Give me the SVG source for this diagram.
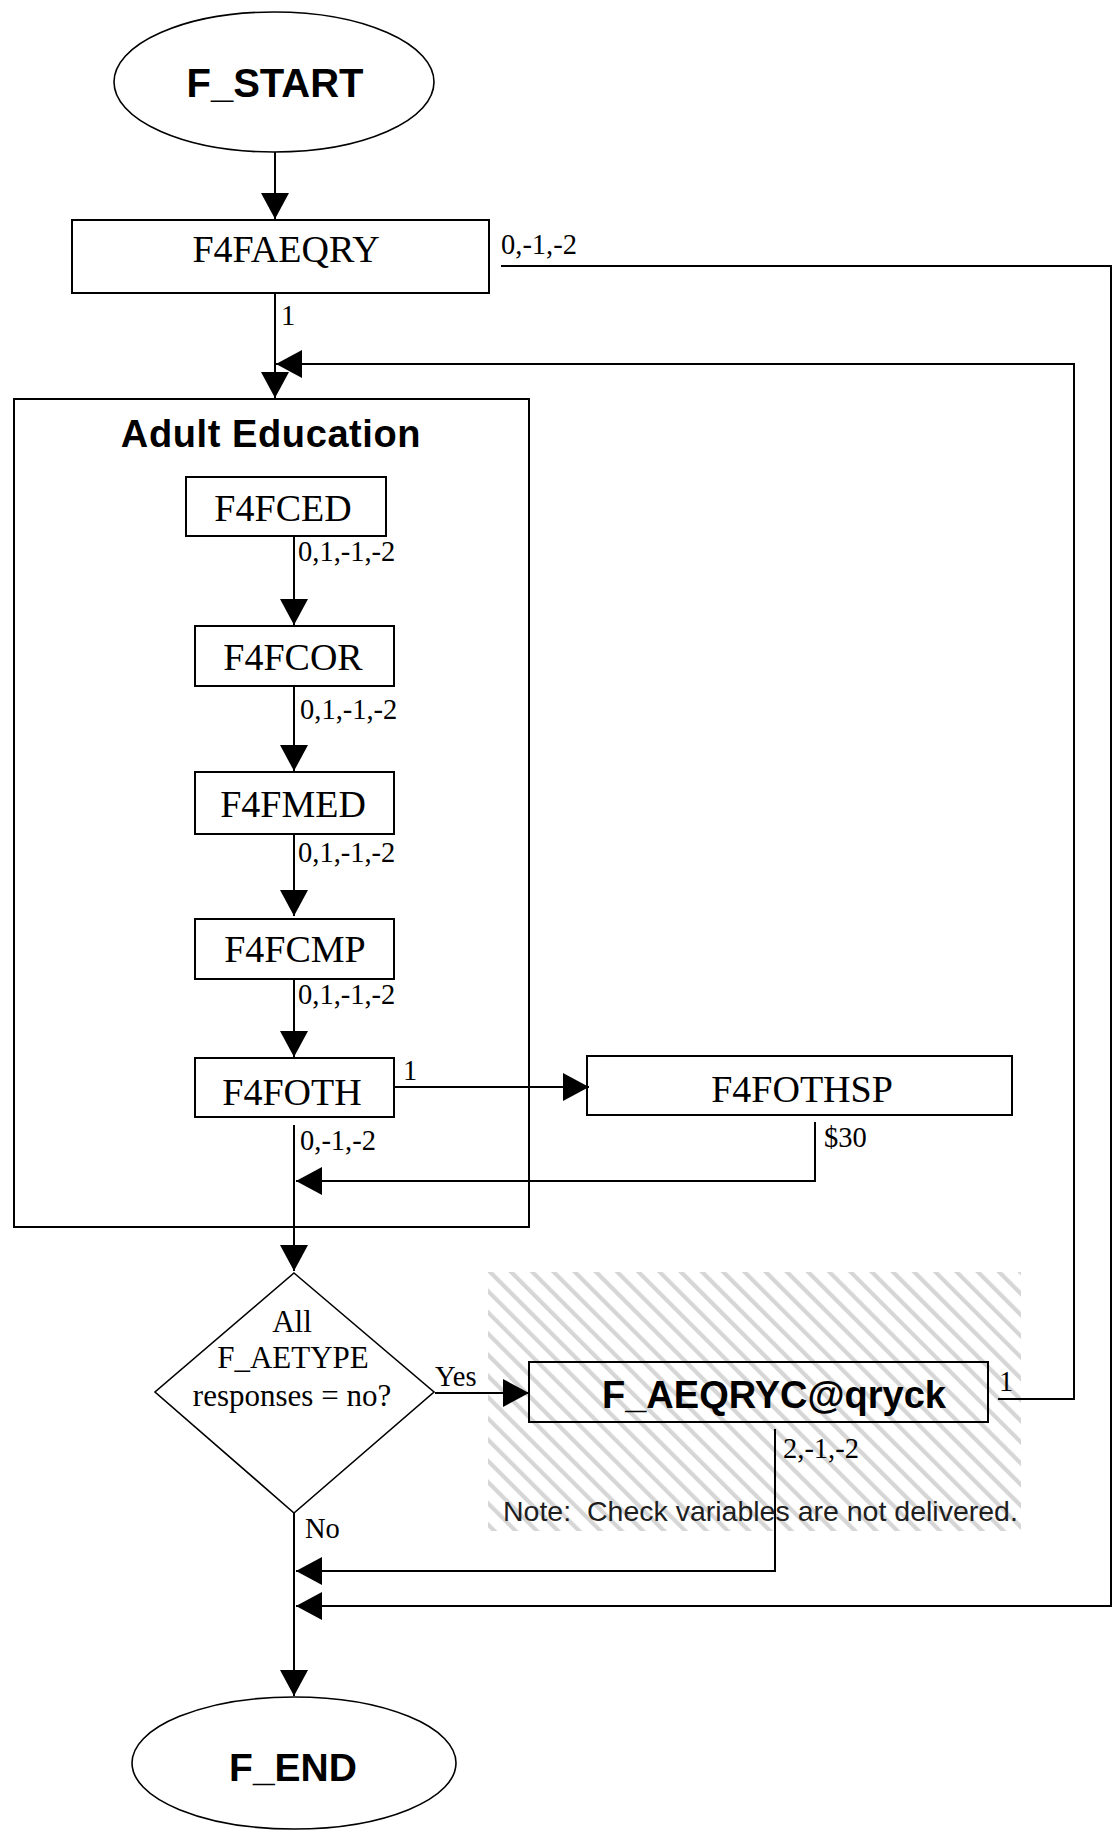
<svg xmlns="http://www.w3.org/2000/svg" width="1117" height="1832" viewBox="0 0 1117 1832">
<style>
.bg{fill:#ffffff}
.box{fill:none;stroke:#000;stroke-width:2}
.term{fill:#fff;stroke:#000;stroke-width:1.6}
.dia{fill:none;stroke:#000;stroke-width:1.6}
.ser{font-family:"Liberation Serif","Times New Roman",serif;fill:#000}
.node{font-size:38px;text-anchor:middle}
.lbl{font-size:28.5px}
.dtx{font-size:31px;text-anchor:middle}
.bold{font-family:"Liberation Sans",Arial,sans-serif;font-weight:bold;text-anchor:middle;fill:#000}
.note{font-family:"Liberation Sans",Arial,sans-serif;font-size:28.5px;fill:#1e1e1e;white-space:pre}
.con{fill:none;stroke:#000;stroke-width:2}
</style>
<defs>
<marker id="arr" viewBox="0 0 26 28" refX="26" refY="14" markerWidth="26" markerHeight="28" markerUnits="userSpaceOnUse" orient="auto">
<path d="M0,0 L26,14 L0,28 Z" fill="#000"/>
</marker>
<pattern id="hatch" width="15" height="15" patternUnits="userSpaceOnUse" patternTransform="rotate(-45)">
<rect x="0" y="0" width="4.2" height="15" fill="#d6d6d6"/>
</pattern>
</defs>
<rect class="bg" x="0" y="0" width="1117" height="1832"/>
<g id="note-area">
<rect x="488" y="1272" width="533" height="259" fill="url(#hatch)"/>
<text class="note" x="503" y="1521">Note:  Check variables are not delivered.</text>
</g>
<g id="container-adult-education">
<rect class="box" x="14" y="399" width="515" height="828"/>
<text class="bold" x="271" y="447" font-size="38" letter-spacing="0.6">Adult Education</text>
</g>
<g id="connectors">
<path class="con" d="M275,152 V219" marker-end="url(#arr)"/>
<path class="con" d="M275,293 V398" marker-end="url(#arr)"/>
<path class="con" d="M998,1399 H1074 V364 H276" marker-end="url(#arr)"/>
<path class="con" d="M501,266 H1111 V1606 H296" marker-end="url(#arr)"/>
<path class="con" d="M294,536 V625" marker-end="url(#arr)"/>
<path class="con" d="M294,686 V771" marker-end="url(#arr)"/>
<path class="con" d="M294,834 V916" marker-end="url(#arr)"/>
<path class="con" d="M294,979 V1057" marker-end="url(#arr)"/>
<path class="con" d="M394,1087 H589" marker-end="url(#arr)"/>
<path class="con" d="M815,1122 V1181 H296" marker-end="url(#arr)"/>
<path class="con" d="M294,1125 V1271" marker-end="url(#arr)"/>
<path class="con" d="M435,1393 H529" marker-end="url(#arr)"/>
<path class="con" d="M775,1429 V1571 H296" marker-end="url(#arr)"/>
<path class="con" d="M294,1513 V1696" marker-end="url(#arr)"/>
<g class="ser lbl">
<text x="501" y="254">0,-1,-2</text>
<text x="281" y="325">1</text>
<text x="298" y="561">0,1,-1,-2</text>
<text x="300" y="719">0,1,-1,-2</text>
<text x="298" y="862">0,1,-1,-2</text>
<text x="298" y="1004">0,1,-1,-2</text>
<text x="403" y="1080">1</text>
<text x="824" y="1147">$30</text>
<text x="300" y="1150">0,-1,-2</text>
<text x="435" y="1386">Yes</text>
<text x="999" y="1391">1</text>
<text x="783" y="1458">2,-1,-2</text>
<text x="305" y="1538">No</text>
</g>
</g>
<g id="F_START">
<ellipse class="term" cx="274" cy="82" rx="160" ry="70"/>
<text class="bold" x="275" y="97" font-size="40">F_START</text>
</g>
<g id="F4FAEQRY">
<rect class="box" x="72" y="220" width="417" height="73"/>
<text class="ser node" x="286" y="262">F4FAEQRY</text>
</g>
<g id="F4FCED">
<rect class="box" x="186" y="477" width="200" height="59"/>
<text class="ser node" x="283" y="521">F4FCED</text>
</g>
<g id="F4FCOR">
<rect class="box" x="195" y="626" width="199" height="60"/>
<text class="ser node" x="293" y="670">F4FCOR</text>
</g>
<g id="F4FMED">
<rect class="box" x="195" y="772" width="199" height="62"/>
<text class="ser node" x="293" y="817">F4FMED</text>
</g>
<g id="F4FCMP">
<rect class="box" x="195" y="919" width="199" height="60"/>
<text class="ser node" x="295" y="962">F4FCMP</text>
</g>
<g id="F4FOTH">
<rect class="box" x="195" y="1058" width="199" height="59"/>
<text class="ser node" x="292" y="1105">F4FOTH</text>
</g>
<g id="F4FOTHSP">
<rect class="box" x="587" y="1056" width="425" height="59"/>
<text class="ser node" x="802" y="1102">F4FOTHSP</text>
</g>
<g id="decision-all-f-aetype">
<polygon class="dia" points="294,1273 434,1392 294,1513 155,1392"/>
<text class="ser dtx" x="292" y="1332">All</text>
<text class="ser dtx" x="293" y="1368">F_AETYPE</text>
<text class="ser dtx" x="292" y="1406">responses = no?</text>
</g>
<g id="F_AEQRYC-qryck">
<rect class="box" x="529" y="1362" width="459" height="60"/>
<text class="bold" x="774" y="1408" font-size="38">F_AEQRYC@qryck</text>
</g>
<g id="F_END">
<ellipse class="term" cx="294" cy="1763" rx="162" ry="66"/>
<text class="bold" x="293" y="1781" font-size="39">F_END</text>
</g>
</svg>
